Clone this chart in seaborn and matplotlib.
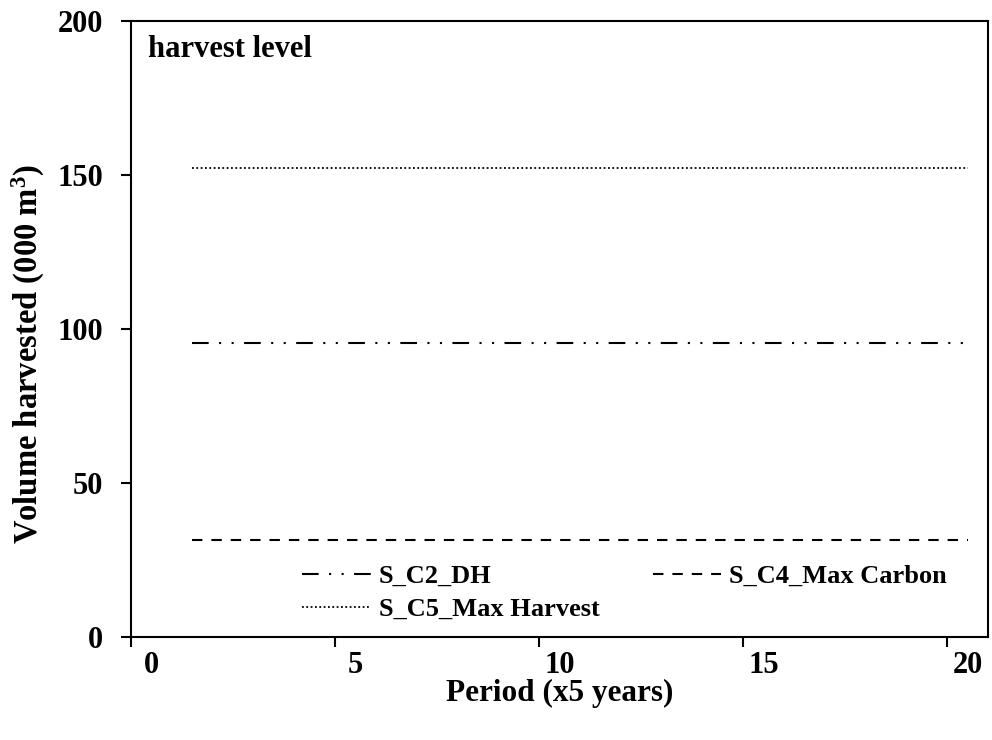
import numpy as np
import pandas as pd
import matplotlib
matplotlib.use("Agg")
import matplotlib.pyplot as plt
import seaborn as sns

# ---- data ----
periods = list(range(1, 21))
dh_values = [95.3] * 20          # S_C2_DH
max_carbon_values = [31.5] * 20  # S_C4_Max Carbon
max_harvest_values = [152.2] * 20  # S_C5_Max Harvest
series_names = ["S_C2_DH", "S_C4_Max Carbon", "S_C5_Max Harvest"]
x_ticks = [0, 5, 10, 15, 20]
y_ticks = [0, 50, 100, 150, 200]

df = pd.DataFrame({
    "Period": periods * 3,
    "Volume": dh_values + max_carbon_values + max_harvest_values,
    "Scenario": [series_names[0]] * 20 + [series_names[1]] * 20 + [series_names[2]] * 20,
})

sns.set_style("white")
plt.rcParams["font.family"] = ["Liberation Serif", "DejaVu Serif"]
plt.rcParams["font.weight"] = "bold"
plt.rcParams["text.color"] = "black"
plt.rcParams["axes.labelcolor"] = "black"
plt.rcParams["xtick.color"] = "black"
plt.rcParams["ytick.color"] = "black"
plt.rcParams["mathtext.fontset"] = "custom"
plt.rcParams["mathtext.rm"] = "Liberation Serif:bold"
plt.rcParams["mathtext.bf"] = "Liberation Serif:bold"
plt.rcParams["mathtext.default"] = "rm"

fig = plt.figure(figsize=(9.92, 7.40), dpi=100)
ax = fig.add_axes([0.132, 0.139, 0.864, 0.833])

styles = {
    "S_C2_DH": (0, (8, 5, 1, 5, 1, 5)),
    "S_C4_Max Carbon": (0, (5, 4.3)),
    "S_C5_Max Harvest": (0, (1, 1.4)),
}
widths = {"S_C2_DH": 1.5, "S_C4_Max Carbon": 1.5, "S_C5_Max Harvest": 1.3}

for name in series_names:
    sub = df[df["Scenario"] == name]
    sns.lineplot(data=sub, x="Period", y="Volume", ax=ax, color="black",
                 linestyle=styles[name], linewidth=widths[name], label=name)

ax.set_xlim(-0.5, 20.5)
ax.set_ylim(0, 200)
ax.set_xticks(x_ticks)
ax.set_xticklabels([str(t) for t in x_ticks], fontsize=22, fontweight="bold")
ax.set_xticks([t - 0.5 for t in x_ticks], minor=True)
ax.set_yticks(y_ticks)
ax.set_yticklabels([str(t) for t in y_ticks], fontsize=22, fontweight="bold")

ax.tick_params(axis="x", which="major", length=0, pad=10)
ax.tick_params(axis="x", which="minor", length=7, width=1.5, direction="out", color="black", bottom=True)
ax.tick_params(axis="y", which="major", length=7, width=1.5, direction="out", color="black", left=True, pad=13)

for s in ax.spines.values():
    s.set_color("black")
    s.set_linewidth(1.5)

ax.set_xlabel("Period (x5 years)", fontsize=22.5, fontweight="bold", labelpad=-1)
ax.set_ylabel("Volume harvested (000 m$^{3}$)", fontsize=23.5, fontweight="bold")
ax.yaxis.set_label_coords(-0.098, 0.46)

ax.text(0.02, 0.953, "harvest level", transform=ax.transAxes, fontsize=22,
        fontweight="bold", va="center", ha="left")

handles, labels = ax.get_legend_handles_labels()
order = [0, 2, 1]
ax.legend([handles[i] for i in order], [labels[i] for i in order],
          ncol=2, loc="center", bbox_to_anchor=(0.576, 0.072), frameon=False,
          prop={"family": "Liberation Serif", "weight": "bold", "size": 19},
          handlelength=2.6, handletextpad=0.3, columnspacing=2.0, labelspacing=0.35,
          borderpad=0.0)

fig.savefig("out.png", dpi=100)
